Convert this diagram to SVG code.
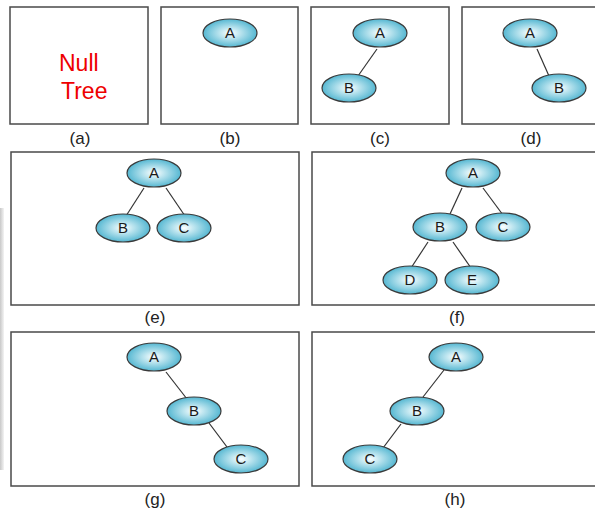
<svg xmlns="http://www.w3.org/2000/svg" width="595" height="513" viewBox="0 0 595 513">
<defs>
<radialGradient id="g" cx="50%" cy="50%" r="55%">
<stop offset="0" stop-color="#ffffff"/>
<stop offset="0.3" stop-color="#c4e8f1"/>
<stop offset="1" stop-color="#45b0cd"/>
</radialGradient>
<linearGradient id="edge" x1="0" x2="1" y1="0" y2="0">
<stop offset="0" stop-color="#c8c8c8"/>
<stop offset="1" stop-color="#f4f4f4"/>
</linearGradient>
</defs>
<style>
.box{fill:#fff;stroke:#4a4a4a;stroke-width:1.5}
.n ellipse{fill:url(#g);stroke:#3a3a3a;stroke-width:1.2}
.n text{font-family:"Liberation Sans",Arial,sans-serif;font-size:15px;fill:#1a1a1a;text-anchor:middle}
.cap{font-family:"Liberation Sans",Arial,sans-serif;font-size:17px;fill:#222;text-anchor:middle}
.e line{stroke:#333;stroke-width:1.2}
.null{font-family:"Liberation Sans",Arial,sans-serif;font-size:23px;fill:#ee0000}
</style>
<rect x="0" y="208" width="4" height="262" fill="url(#edge)"/>
<g id="panels">
<rect class="box" x="10" y="7" width="138" height="117"/>
<rect class="box" x="161" y="7" width="137" height="117"/>
<rect class="box" x="311" y="7" width="138" height="117"/>
<rect class="box" x="462" y="7" width="140" height="117"/>
<rect class="box" x="11" y="152" width="288" height="153"/>
<rect class="box" x="312" y="152" width="290" height="153"/>
<rect class="box" x="11" y="332" width="288" height="154"/>
<rect class="box" x="312" y="332" width="290" height="154"/>
</g>
<g id="captions">
<text class="cap" x="80" y="144">(a)</text>
<text class="cap" x="230" y="144">(b)</text>
<text class="cap" x="380" y="144">(c)</text>
<text class="cap" x="531" y="144">(d)</text>
<text class="cap" x="155" y="323">(e)</text>
<text class="cap" x="457" y="323">(f)</text>
<text class="cap" x="155" y="505">(g)</text>
<text class="cap" x="455" y="505">(h)</text>
</g>
<g id="null-tree">
<text class="null" x="59" y="71">Null</text>
<text class="null" x="61" y="99">Tree</text>
</g>
<g id="connectors" class="e">
<line x1="377" y1="49" x2="358" y2="76"/>
<line x1="537" y1="49" x2="549" y2="76"/>
<line x1="144" y1="188" x2="126" y2="216"/>
<line x1="166" y1="188" x2="185" y2="216"/>
<line x1="462" y1="188" x2="450" y2="214"/>
<line x1="483" y1="188" x2="503" y2="215"/>
<line x1="428" y1="242" x2="411" y2="268"/>
<line x1="453" y1="242" x2="471" y2="268"/>
<line x1="166" y1="372" x2="187" y2="399"/>
<line x1="209" y1="423" x2="227" y2="447"/>
<line x1="444" y1="370" x2="423" y2="397"/>
<line x1="401" y1="424" x2="383" y2="448"/>
</g>
<g id="b-A" class="n"><ellipse cx="230" cy="33" rx="27" ry="14"/><text x="230" y="38">A</text></g>
<g id="c-A" class="n"><ellipse cx="380" cy="33" rx="27" ry="14"/><text x="380" y="38">A</text></g>
<g id="c-B" class="n"><ellipse cx="349" cy="88" rx="27" ry="14"/><text x="349" y="93">B</text></g>
<g id="d-A" class="n"><ellipse cx="530" cy="33" rx="27" ry="14"/><text x="530" y="38">A</text></g>
<g id="d-B" class="n"><ellipse cx="559" cy="88" rx="27" ry="14"/><text x="559" y="93">B</text></g>
<g id="e-A" class="n"><ellipse cx="154" cy="173" rx="27" ry="14"/><text x="154" y="178">A</text></g>
<g id="e-B" class="n"><ellipse cx="123" cy="228" rx="27" ry="14"/><text x="123" y="233">B</text></g>
<g id="e-C" class="n"><ellipse cx="184" cy="228" rx="27" ry="14"/><text x="184" y="233">C</text></g>
<g id="f-A" class="n"><ellipse cx="473" cy="173" rx="27" ry="14"/><text x="473" y="178">A</text></g>
<g id="f-B" class="n"><ellipse cx="440" cy="227" rx="27" ry="14"/><text x="440" y="232">B</text></g>
<g id="f-C" class="n"><ellipse cx="503" cy="227" rx="27" ry="14"/><text x="503" y="232">C</text></g>
<g id="f-D" class="n"><ellipse cx="410" cy="280" rx="27" ry="14"/><text x="410" y="285">D</text></g>
<g id="f-E" class="n"><ellipse cx="472" cy="280" rx="27" ry="14"/><text x="472" y="285">E</text></g>
<g id="g-A" class="n"><ellipse cx="154" cy="357" rx="27" ry="14"/><text x="154" y="362">A</text></g>
<g id="g-B" class="n"><ellipse cx="194" cy="411" rx="27" ry="14"/><text x="194" y="416">B</text></g>
<g id="g-C" class="n"><ellipse cx="241" cy="459" rx="27" ry="14"/><text x="241" y="464">C</text></g>
<g id="h-A" class="n"><ellipse cx="456" cy="357" rx="27" ry="14"/><text x="456" y="362">A</text></g>
<g id="h-B" class="n"><ellipse cx="417" cy="411" rx="27" ry="14"/><text x="417" y="416">B</text></g>
<g id="h-C" class="n"><ellipse cx="370" cy="459" rx="27" ry="14"/><text x="370" y="464">C</text></g>
</svg>
